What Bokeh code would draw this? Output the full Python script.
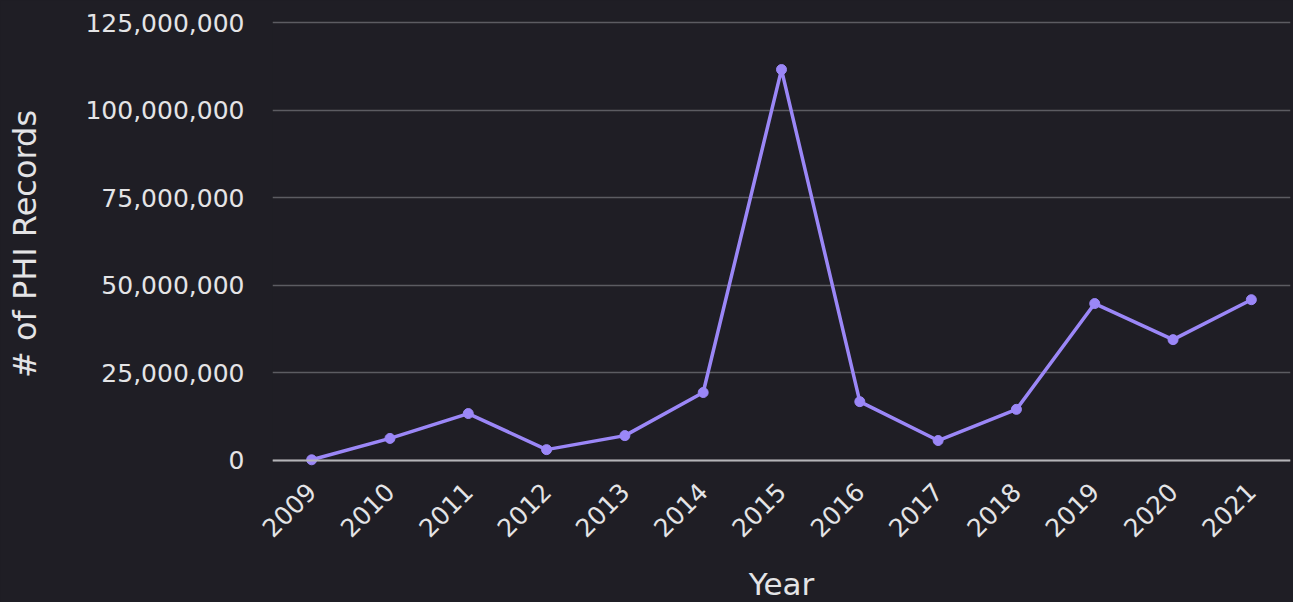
from bokeh.plotting import figure
from bokeh.models import Range1d, Span, NumeralTickFormatter, FixedTicker, ColumnDataSource
from bokeh.embed import file_html
from bokeh.resources import INLINE
import math

years = ["2009", "2010", "2011", "2012", "2013", "2014", "2015",
         "2016", "2017", "2018", "2019", "2020", "2021"]
records = [0.2e6, 6.3e6, 13.4e6, 3.1e6, 7.1e6, 19.4e6, 111.6e6,
           16.8e6, 5.7e6, 14.6e6, 44.8e6, 34.5e6, 45.9e6]
y_ticks = [0, 25e6, 50e6, 75e6, 100e6, 125e6]

BG = "#1f1e25"
TXT = "#e4e4e6"
LINE = "#9b87f7"
FONT = "DejaVu Sans"

src = ColumnDataSource(dict(year=years, rec=records))

p = figure(x_range=years, y_range=Range1d(-2e6, 125.6e6),
           frame_width=1018, frame_height=447,
           min_border_left=272, min_border_right=1,
           min_border_top=20, min_border_bottom=120,
           output_backend="svg", toolbar_location=None,
           background_fill_color=BG, border_fill_color=BG)
p.outline_line_color = None

p.line("year", "rec", source=src, line_color=LINE, line_width=3.5)
p.scatter("year", "rec", source=src, size=10, fill_color=LINE, line_color=LINE)

p.add_layout(Span(location=0, dimension="width", line_color="#b4b4b8", line_width=2))

p.xgrid.grid_line_color = None
p.ygrid.grid_line_color = "#5c5c62"
p.ygrid.grid_line_width = 1.5
p.ygrid.ticker = FixedTicker(ticks=y_ticks)

p.yaxis.ticker = FixedTicker(ticks=y_ticks)
p.yaxis.formatter = NumeralTickFormatter(format="0,0")
p.yaxis.axis_line_color = None
p.yaxis.major_tick_line_color = None
p.yaxis.minor_tick_line_color = None
p.yaxis.major_label_standoff = 22
p.yaxis.major_label_text_font_size = "25px"
p.yaxis.major_label_text_color = TXT
p.yaxis.major_label_text_font = FONT
p.yaxis.axis_label = "# of PHI Records"
p.yaxis.axis_label_text_font_size = "32px"
p.yaxis.axis_label_text_font_style = "normal"
p.yaxis.axis_label_text_color = TXT
p.yaxis.axis_label_text_font = FONT
p.yaxis.axis_label_standoff = 38

p.xaxis.axis_line_color = None
p.xaxis.major_tick_line_color = None
p.xaxis.minor_tick_line_color = None
p.xaxis.major_label_orientation = math.pi / 4
p.xaxis.major_label_standoff = 14
p.xaxis.major_label_text_font_size = "25px"
p.xaxis.major_label_text_color = TXT
p.xaxis.major_label_text_font = FONT
p.xaxis.axis_label = "Year"
p.xaxis.axis_label_text_font_size = "31px"
p.xaxis.axis_label_text_font_style = "normal"
p.xaxis.axis_label_text_color = TXT
p.xaxis.axis_label_text_font = FONT
p.xaxis.axis_label_standoff = 18

html = file_html(p, INLINE)
html = html.replace("</head>", "<style>html,body{background:%s;}</style></head>" % BG, 1)
open("out.html", "w").write(html)
